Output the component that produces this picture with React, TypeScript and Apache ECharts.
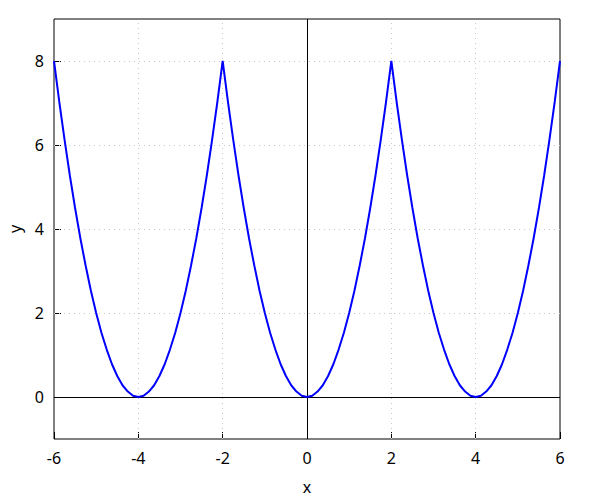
import React, { useEffect, useRef } from "react";
import * as echarts from "echarts";

const xValues: number[] = [
  -6, -5.875, -5.75, -5.625, -5.5, -5.375, -5.25, -5.125, -5, -4.875, -4.75, -4.625, -4.5, -4.375, -4.25, -4.125,
  -4, -3.875, -3.75, -3.625, -3.5, -3.375, -3.25, -3.125, -3, -2.875, -2.75, -2.625, -2.5, -2.375, -2.25, -2.125,
  -2, -1.875, -1.75, -1.625, -1.5, -1.375, -1.25, -1.125, -1, -0.875, -0.75, -0.625, -0.5, -0.375, -0.25, -0.125,
  0, 0.125, 0.25, 0.375, 0.5, 0.625, 0.75, 0.875, 1, 1.125, 1.25, 1.375, 1.5, 1.625, 1.75, 1.875,
  2, 2.125, 2.25, 2.375, 2.5, 2.625, 2.75, 2.875, 3, 3.125, 3.25, 3.375, 3.5, 3.625, 3.75, 3.875,
  4, 4.125, 4.25, 4.375, 4.5, 4.625, 4.75, 4.875, 5, 5.125, 5.25, 5.375, 5.5, 5.625, 5.75, 5.875,
  6,
];
const yValues: number[] = [
  8, 7.03, 6.13, 5.28, 4.5, 3.78, 3.13, 2.53, 2, 1.53, 1.13, 0.78, 0.5, 0.28, 0.13, 0.03,
  0, 0.03, 0.13, 0.28, 0.5, 0.78, 1.13, 1.53, 2, 2.53, 3.13, 3.78, 4.5, 5.28, 6.13, 7.03,
  8, 7.03, 6.13, 5.28, 4.5, 3.78, 3.13, 2.53, 2, 1.53, 1.13, 0.78, 0.5, 0.28, 0.13, 0.03,
  0, 0.03, 0.13, 0.28, 0.5, 0.78, 1.13, 1.53, 2, 2.53, 3.13, 3.78, 4.5, 5.28, 6.13, 7.03,
  8, 7.03, 6.13, 5.28, 4.5, 3.78, 3.13, 2.53, 2, 1.53, 1.13, 0.78, 0.5, 0.28, 0.13, 0.03,
  0, 0.03, 0.13, 0.28, 0.5, 0.78, 1.13, 1.53, 2, 2.53, 3.13, 3.78, 4.5, 5.28, 6.13, 7.03,
  8,
];
const yTickValues: number[] = [0, 2, 4, 6, 8];
const xGridValues: number[] = [-4, -2, 2, 4];
const yGridValues: number[] = [2, 4, 6, 8];

export default function App() {
  const ref = useRef<HTMLDivElement>(null);
  useEffect(() => {
    if (!ref.current) return;
    const chart = echarts.init(ref.current, null, { renderer: "svg" });
    const font = "Noto Sans";
    const dotted = { color: "#c8c8c8", type: [1, 4] as any, width: 1 };
    chart.setOption({
      animation: false,
      backgroundColor: "#ffffff",
      textStyle: { fontFamily: font },
      grid: {
        left: 54,
        right: 40,
        top: 19,
        bottom: 61,
        show: true,
        borderColor: "#000000",
        borderWidth: 1,
        backgroundColor: "transparent",
        containLabel: false,
        outerBoundsMode: "none",
      },
      xAxis: {
        type: "value",
        min: -6,
        max: 6,
        interval: 2,
        name: "x",
        nameLocation: "middle",
        nameGap: 40,
        nameTextStyle: { fontSize: 16, color: "#000", fontFamily: font },
        axisLine: { show: false, onZero: false },
        axisTick: { show: true, inside: true, length: 7, lineStyle: { color: "#000" } },
        axisLabel: { fontSize: 16, color: "#000", margin: 11, fontFamily: font },
        splitLine: { show: false },
      },
      yAxis: {
        type: "value",
        min: -1,
        max: 9,
        interval: 1,
        name: "y",
        nameLocation: "middle",
        nameGap: 31,
        nameTextStyle: { fontSize: 16, color: "#000", fontFamily: font },
        axisLine: { show: false, onZero: false },
        axisTick: {
          show: true,
          inside: true,
          length: 7,
          customValues: yTickValues,
          lineStyle: { color: "#000" },
        },
        axisLabel: {
          fontSize: 16,
          color: "#000",
          margin: 10,
          customValues: yTickValues,
          fontFamily: font,
        },
        splitLine: { show: false },
      },
      series: [
        {
          type: "line",
          data: xValues.map((x, i) => [x, yValues[i]]),
          showSymbol: false,
          symbol: "none",
          smooth: false,
          lineStyle: { color: "#0000ff", width: 2 },
          z: 5,
          markLine: {
            silent: true,
            symbol: "none",
            label: { show: false },
            emphasis: { disabled: true },
            data: [
              ...xGridValues.map((v) => ({ xAxis: v, lineStyle: dotted })),
              ...yGridValues.map((v) => ({ yAxis: v, lineStyle: dotted })),
              { xAxis: 0, lineStyle: { color: "#000", type: "solid", width: 1 } },
              { yAxis: 0, lineStyle: { color: "#000", type: "solid", width: 1 } },
            ],
          },
        },
      ],
    });
    return () => chart.dispose();
  }, []);
  return (
    <div
      ref={ref}
      style={{ position: "fixed", left: 0, top: 0, width: 600, height: 500 }}
    />
  );
}
